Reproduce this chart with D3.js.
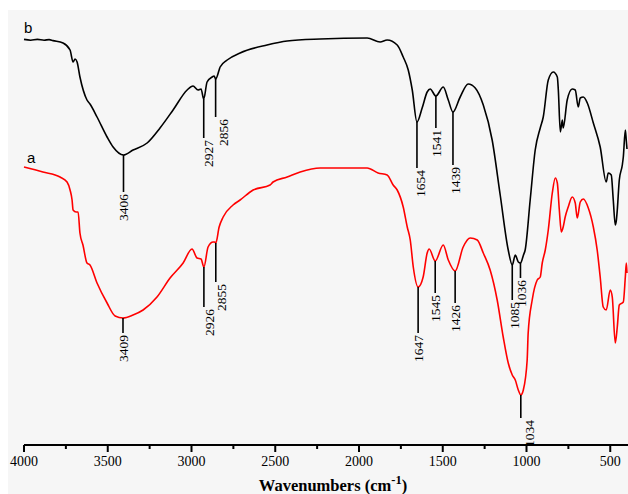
<!DOCTYPE html>
<html><head><meta charset="utf-8">
<script src="https://cdn.jsdelivr.net/npm/d3@7"></script>
<style>html,body{margin:0;padding:0;background:#fff;}svg{display:block;}</style>
</head><body>
<svg id="chart" width="628" height="494"></svg>
<script>
// Wavenumbers (cm-1) and transmittance (a.u.)
const waveB = [4000,3960,3920,3880,3850,3827,3767,3725,3707,3695,3683,3666,3624,3606,3564,3504,3468,3406,3349,3265,3188,3110,3026,2991,2961,2943,2927,2907,2877,2865,2856,2835,2829,2787,2710,2549,2429,2232,1951,1874,1832,1772,1736,1706,1682,1654,1623,1593,1575,1541,1497,1467,1439,1396,1348,1306,1258,1205,1157,1109,1085,1067,1049,1036,1018,1008,978,948,918,900,870,840,816,810,798,786,781,757,727,709,691,679,661,637,601,560,524,512,494,482,470,464,458,446,428,422,410,404,400];
const valB  = [101.4,101.2,101.4,101.2,101.35,101.1,100.5,98.75,95.75,96.5,95.75,92,86.25,85.25,82,77,74.5,72.5,73.75,75.5,79.25,83.75,88.75,89.75,88.75,89,86.5,90.75,92,92.25,91.5,93.75,94.5,96.25,98,100,101,101.5,101.75,100.75,101.25,100,97,93.75,88.75,80.75,84.25,88.25,89,87.25,89.5,86.25,83.25,87,90.25,89.25,85,76.25,62.5,48.75,45,47.5,45.75,45.5,47.5,48.75,61.25,73.75,79.25,82,91.25,93.25,92,88.75,78.25,81.25,79.25,86.25,89,88.75,84.5,86.75,87,85.5,80.5,74.5,65.75,68,67.5,61.25,55,56,58.75,66.25,70,72,78.75,76,74];

const waveA = [4000,3887,3785,3743,3725,3713,3707,3689,3677,3666,3648,3624,3606,3564,3504,3456,3409,3349,3289,3206,3128,3050,2997,2967,2943,2926,2901,2871,2862,2855,2835,2811,2752,2710,2632,2531,2513,2429,2351,2232,2154,1951,1886,1832,1796,1772,1736,1712,1694,1676,1647,1617,1593,1581,1545,1497,1467,1426,1378,1336,1294,1258,1217,1175,1139,1109,1085,1067,1049,1034,1019,996,990,966,936,918,906,888,870,846,828,816,804,792,781,769,751,727,709,697,679,661,631,601,578,560,542,524,500,488,470,458,446,422,410,404,400];
const valA  = [69.5,68.25,67,65.75,63.75,61.25,58.75,58.25,58.25,53,50,45.5,45,40.5,35.5,32.25,31.75,32.5,33.75,37,41.75,45.5,49,46.75,46.5,44.5,49.5,50.75,50.75,50.5,54.5,57,60,61.25,63.75,65,65.75,67,68.25,69.25,69.25,69.25,68,67.5,65,63.75,59.5,54.5,51.25,44.5,39.5,42,48,49,46,50,46.25,43.5,49.5,51.75,51.25,48,43.75,36.25,27,20.5,17.5,16.25,13.75,12.5,13.75,21.25,28,36.25,41.25,42,45.5,48.75,53.75,63,66.75,65.5,58.75,53.25,54.5,57,59.5,62,60.5,56.75,60.75,61.5,59.25,54.5,48.75,42,34.5,33.75,38.75,37,25.5,29.5,35,35.75,42,45.5,43];

// Peak labels: wavenumber, level where the label line ends, text shift
const peaksB = [3406,2927,2856,1654,1541,1439,1085,1036];
const peaksBEnd = [63.25,76.75,82,69.25,79.25,70,36.25,41.75];
const peaksBShift = [0,5,8,3,0,2,2,1];
const peaksA = [3409,2926,2855,1647,1545,1426,1034];
const peaksAEnd = [28,34.5,40.75,28,38,35.5,6.75];
const peaksAShift = [0,5,5,0,0,0,8];

const xTicks = [4000,3500,3000,2500,2000,1500,1000,500];
const xMinor = [3750,3250,2750,2250,1750,1250,750];
const seriesNames = ["b","a"];

const svg = d3.select("#chart");
svg.append("rect").attr("x",8).attr("y",10).attr("width",620).attr("height",484).attr("fill","#f6f6f6");

const x = d3.scaleLinear().domain([4000,400]).range([24,627]);
const y = d3.scaleLinear().domain([0,110]).range([445,5]);

const line = d3.line().x(d=>x(d[0])).y(d=>y(d[1])).curve(d3.curveMonotoneX);
const dataB = waveB.map((w,i)=>[w,valB[i]]);
const dataA = waveA.map((w,i)=>[w,valA[i]]);

svg.append("path").datum(dataB).attr("d",line).attr("fill","none").attr("stroke","#000").attr("stroke-width",1.6);
svg.append("path").datum(dataA).attr("d",line).attr("fill","none").attr("stroke","#ff0000").attr("stroke-width",1.6);

function valueAt(data,w){
  let best=data[0];
  data.forEach(d=>{ if(Math.abs(d[0]-w)<Math.abs(best[0]-w)) best=d; });
  return best[1];
}
function annotate(data,peaks,ends,shifts){
  peaks.forEach((p,i)=>{
    const px = x(p), top = y(valueAt(data,p)), bot = y(ends[i]);
    svg.append("line").attr("x1",px).attr("x2",px).attr("y1",top).attr("y2",bot)
      .attr("stroke","#000").attr("stroke-width",1.6);
    svg.append("text")
      .attr("transform",`translate(${px+shifts[i]},${bot+2}) rotate(-90)`)
      .attr("text-anchor","end").attr("dy","0.35em")
      .attr("font-family","'Liberation Serif','Times New Roman',serif").attr("font-size",13.5)
      .attr("fill","#000").text(p);
  });
}
annotate(dataB,peaksB,peaksBEnd,peaksBShift);
annotate(dataA,peaksA,peaksAEnd,peaksAShift);

// series labels
svg.append("text").attr("x",x(4000)).attr("y",y(valB[0])-6).attr("font-family","'Liberation Sans',Arial,sans-serif")
  .attr("font-size",15).attr("fill","#000").text(seriesNames[0]);
svg.append("text").attr("x",x(4000)+3).attr("y",y(valA[0])-4).attr("font-family","'Liberation Sans',Arial,sans-serif")
  .attr("font-size",15).attr("fill","#000").text(seriesNames[1]);

// x axis
const ax = svg.append("g").attr("transform","translate(0,445)");
ax.append("line").attr("x1",x(4000)).attr("x2",628).attr("stroke","#000").attr("stroke-width",2);
ax.selectAll(".maj").data(xTicks).enter().append("line")
  .attr("x1",d=>x(d)).attr("x2",d=>x(d)).attr("y1",0).attr("y2",7).attr("stroke","#000").attr("stroke-width",2);
ax.selectAll(".min").data(xMinor).enter().append("line")
  .attr("x1",d=>x(d)).attr("x2",d=>x(d)).attr("y1",0).attr("y2",4).attr("stroke","#000").attr("stroke-width",2);
ax.selectAll(".lab").data(xTicks).enter().append("text")
  .attr("x",d=>x(d)).attr("y",21).attr("text-anchor","middle")
  .attr("font-family","'Liberation Serif','Times New Roman',serif").attr("font-size",14).attr("fill","#000")
  .text(d=>d);

const title = svg.append("text").attr("x",333).attr("y",491).attr("text-anchor","middle")
  .attr("font-family","'Liberation Serif','Times New Roman',serif").attr("font-size",16.5).attr("font-weight","bold").attr("fill","#000");
title.append("tspan").text("Wavenumbers (cm");
title.append("tspan").attr("dy",-7).attr("font-size",12.5).text("-1");
title.append("tspan").attr("dy",7).text(")");
</script>
</body></html>
